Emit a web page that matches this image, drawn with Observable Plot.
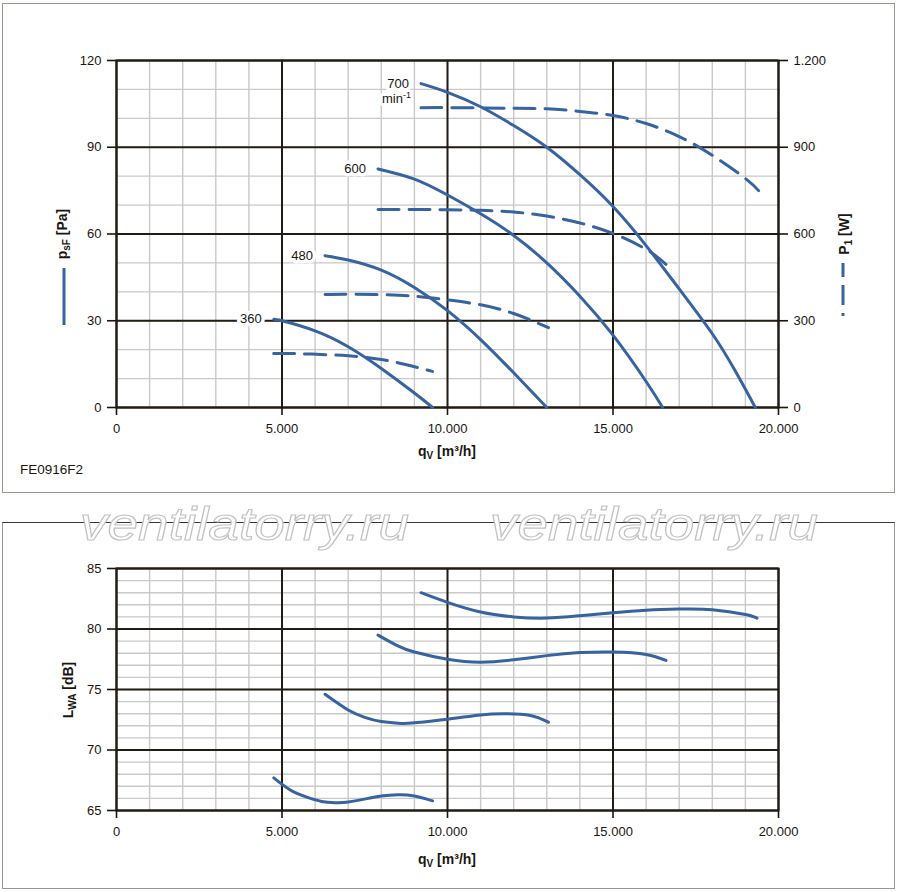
<!DOCTYPE html>
<html><head><meta charset="utf-8">
<script src="https://cdn.jsdelivr.net/npm/d3@7"></script>
<script src="https://cdn.jsdelivr.net/npm/@observablehq/plot@0.6"></script>
<style>
body{margin:0;background:#fff;}
#root{position:relative;width:900px;height:892px;font-family:"Liberation Sans",Arial,Helvetica,sans-serif;color:#1a1510;overflow:hidden}
.abs{position:absolute;left:0}
.panel{position:absolute;border:1.5px solid #9a978e;box-sizing:border-box}
.lbl{position:absolute;font-weight:bold;font-size:14px;white-space:nowrap;line-height:1}
.rot{transform:translate(-50%,-50%) rotate(-90deg)}
.ctr{transform:translate(-50%,-50%)}
sub{font-size:10px;vertical-align:-3px;line-height:0}
</style></head>
<body><div id="root">
<div class="panel" style="left:2px;top:3px;width:893px;height:490px"></div>
<div class="panel" style="left:2px;top:522px;width:893px;height:367px;border-top-color:#3a352e"></div>
<div id="topP" class="abs" style="top:0"></div>
<div id="topW" class="abs" style="top:0"></div>
<div id="bot" class="abs" style="top:500px"></div>
<div class="lbl ctr" style="left:447px;top:451px">q<sub>V</sub> [m³/h]</div>
<div class="lbl ctr" style="left:447px;top:859px">q<sub>V</sub> [m³/h]</div>
<div class="lbl rot" style="left:62px;top:234px">p<sub>sF</sub> [Pa]</div>
<div class="lbl rot" style="left:844px;top:234px">P<sub>1</sub> [W]</div>
<div class="lbl rot" style="left:68px;top:690px">L<sub>WA</sub> [dB]</div>
<div style="position:absolute;left:20px;top:462px;font-size:13.5px">FE0916F2</div>
<svg width="900" height="892" style="position:absolute;left:0;top:0;pointer-events:none">
  <line x1="64" x2="64" y1="268" y2="325" stroke="#3763a0" stroke-width="3"/>
  <line x1="843" x2="843" y1="263" y2="326" stroke="#3763a0" stroke-width="3" stroke-dasharray="14 8 20 8 3"/>
  <g font-family="Liberation Sans, Arial, sans-serif" font-style="italic" font-size="46" fill="#fff" stroke="#c2c2c2" stroke-width="1.1">
    <text x="80" y="540" textLength="329" lengthAdjust="spacingAndGlyphs">ventilatorry.ru</text>
    <text x="490" y="540" textLength="328" lengthAdjust="spacingAndGlyphs">ventilatorry.ru</text>
  </g>
</svg>
</div>
<script>
// ---- data ----
const speeds = ["360", "480", "600", "700"];
const xMajor = [0, 5000, 10000, 15000, 20000];
const pMajor = [0, 30, 60, 90, 120];
const wMajor = [0, 300, 600, 900, 1200];
const lMajor = [65, 70, 75, 80, 85];

const pressure360 = [[4750,30.5],[5000,30],[6000,26.5],[7000,21],[8000,13.5],[9000,5],[9550,0]];
const pressure480 = [[6300,52.5],[7000,51],[8000,47.5],[9000,41.5],[10000,33.5],[11000,23.5],[12000,12],[13000,0]];
const pressure600 = [[7900,82.5],[9000,79],[10000,73.5],[11000,67],[12000,59.5],[13000,50],[14000,38.5],[15000,25],[16000,9],[16500,0]];
const pressure700 = [[9200,112],[10000,109],[11000,104],[12000,97.5],[13000,90],[14000,80.5],[15000,69.5],[16000,56],[17000,41],[18000,25.5],[18700,12.5],[19300,0]];

const power360 = [[4750,187],[5500,186],[6500,182],[7000,179],[7500,174],[8000,166],[8500,155],[9000,141],[9550,125]];
const power480 = [[6300,391],[7000,392],[8000,390],[9000,385],[10000,372],[11000,355],[12000,325],[13050,276]];
const power600 = [[7900,685],[9000,685],[10000,684],[11000,682],[12000,676],[13000,662],[14000,638],[15000,602],[16000,547],[16600,495]];
const power700 = [[9200,1037],[10000,1037],[11000,1036],[12000,1035],[13000,1033],[14000,1024],[15000,1010],[16000,982],[17000,937],[18000,872],[19000,792],[19400,750]];

const sound360 = [[4750,67.7],[5250,66.7],[5750,66.1],[6200,65.75],[6600,65.65],[7000,65.7],[7600,66.0],[8000,66.2],[8500,66.3],[9000,66.2],[9550,65.8]];
const sound480 = [[6300,74.6],[7000,73.3],[7500,72.7],[8000,72.35],[8600,72.2],[9000,72.25],[10000,72.55],[11000,72.9],[11700,73.0],[12500,72.85],[13050,72.3]];
const sound600 = [[7900,79.5],[8500,78.6],[9000,78.1],[10000,77.5],[11000,77.25],[12000,77.45],[13000,77.8],[14000,78.05],[15000,78.1],[16000,77.9],[16600,77.4]];
const sound700 = [[9200,83],[10000,82.2],[11000,81.4],[12000,81],[13000,80.9],[14000,81.1],[15000,81.35],[16000,81.55],[17000,81.65],[18000,81.6],[19000,81.2],[19350,80.9]];

// ---- build tables ----
const toRows = (series) => speeds.flatMap((s, i) => series[i].map(([q, v]) => ({speed: s, q, v})));
const pRows = toRows([pressure360, pressure480, pressure600, pressure700]);
const wRows = toRows([power360, power480, power600, power700]);
const lRows = toRows([sound360, sound480, sound600, sound700]);

const fmt = d3.formatLocale({decimal: ",", thousands: ".", grouping: [3], currency: ["", ""]}).format(",");
const BLUE = "#3763a0", DARK = "#241c14", MINOR = "#c9c9c9";
const FONT = "Liberation Sans, Arial, Helvetica, sans-serif";
const chartStyle = {background: "transparent", overflow: "visible", fontFamily: FONT, color: "#1a1510"};
const CURVE = "natural";

function baseMarks(yMinor, yMaj) {
  return [
    Plot.gridX(d3.range(0, 20001, 1000), {stroke: MINOR, strokeOpacity: 1, strokeWidth: 1.4}),
    Plot.gridY(yMinor, {stroke: MINOR, strokeOpacity: 1, strokeWidth: 1.4}),
    Plot.gridX(xMajor, {stroke: DARK, strokeOpacity: 1, strokeWidth: 2}),
    Plot.gridY(yMaj, {stroke: DARK, strokeOpacity: 1, strokeWidth: 2}),
    Plot.frame({stroke: DARK, strokeWidth: 2}),
    Plot.axisX(xMajor, {tickSize: 8, tickPadding: 8, tickFormat: fmt, fontSize: 13, strokeWidth: 1.6, label: null}),
    Plot.axisY(yMaj, {tickSize: 9, tickPadding: 6, tickFormat: fmt, fontSize: 13, strokeWidth: 1.6, label: null})
  ];
}

// top: pressure
const pressureChart = Plot.plot({
  width: 900, height: 495,
  marginLeft: 116, marginRight: 122, marginTop: 60, marginBottom: 88,
  style: chartStyle,
  x: {domain: [0, 20000]},
  y: {domain: [0, 120]},
  marks: [
    ...baseMarks(d3.range(0, 121, 10), pMajor),
    Plot.line(pRows, {x: "q", y: "v", z: "speed", stroke: BLUE, strokeWidth: 3, curve: CURVE}),
    Plot.text(pRows, Plot.selectFirst({x: "q", y: "v", z: "speed", text: "speed", textAnchor: "end", dx: -12, fontSize: 13, fill: "#1a1510", stroke: "white", strokeWidth: 7})),
    Plot.text(pRows.filter(d => d.speed === "700"), Plot.selectFirst({x: "q", y: "v", text: () => "min", textAnchor: "start", dx: -39, dy: 15, fontSize: 13, fill: "#1a1510", stroke: "white", strokeWidth: 6})),
    Plot.text(pRows.filter(d => d.speed === "700"), Plot.selectFirst({x: "q", y: "v", text: () => "-1", textAnchor: "start", dx: -18, dy: 11, fontSize: 9, fill: "#1a1510"}))
  ]
});
document.getElementById("topP").append(pressureChart);

// top: power (right axis)
const powerChart = Plot.plot({
  width: 900, height: 495,
  marginLeft: 116, marginRight: 122, marginTop: 60, marginBottom: 88,
  style: chartStyle,
  x: {domain: [0, 20000], axis: null},
  y: {domain: [0, 1200]},
  marks: [
    Plot.axisY(wMajor, {anchor: "right", tickSize: 9, tickPadding: 6, tickFormat: fmt, fontSize: 13, strokeWidth: 1.6, label: null}),
    Plot.line(wRows, {x: "q", y: "v", z: "speed", stroke: BLUE, strokeWidth: 3, strokeDasharray: "21 10", curve: CURVE})
  ]
});
document.getElementById("topW").append(powerChart);

// bottom: sound power
const soundChart = Plot.plot({
  width: 900, height: 390,
  marginLeft: 116, marginRight: 122, marginTop: 68, marginBottom: 80,
  style: chartStyle,
  x: {domain: [0, 20000]},
  y: {domain: [65, 85]},
  marks: [
    ...baseMarks(d3.range(65, 86, 1), lMajor),
    Plot.line(lRows, {x: "q", y: "v", z: "speed", stroke: BLUE, strokeWidth: 3, curve: CURVE})
  ]
});
document.getElementById("bot").append(soundChart);
</script>
</body></html>
